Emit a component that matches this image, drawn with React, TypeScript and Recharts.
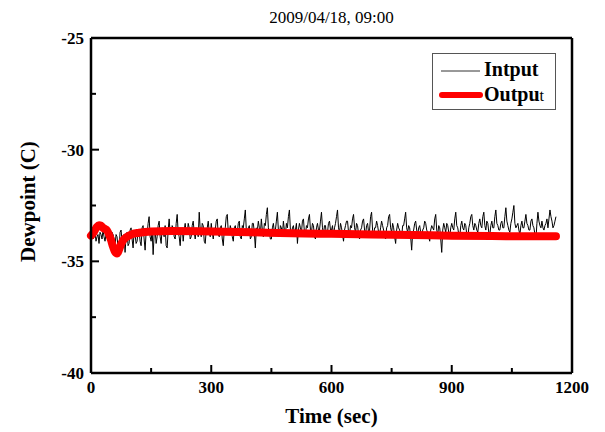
import { LineChart, Line, XAxis, YAxis, Legend } from "recharts";

// Chart text
const title = "2009/04/18, 09:00";
const xTitle = "Time (sec)";
const yTitle = "Dewpoint (C)";

// Axis ticks (minor ticks sit between the labelled ones)
const xTicks = [0, 150, 300, 450, 600, 750, 900, 1050, 1200];
const xMajorStep = 300;
const yTicks = [-40, -37.5, -35, -32.5, -30, -27.5, -25];
const yMajorStep = 5;

// Input sampled every 2.5 sec, 0..1160 (one row = one minute)
const inputStep = 2.5;
const inputValues = [
    -33.8, -33.6, -34.0, -33.9, -33.7, -34.1, -33.9, -33.8, -34.2, -33.7, -33.8, -34.0, -33.6, -33.9, -34.1, -33.8, -33.9, -33.6, -33.7, -34.2, -34.0, -33.7, -33.8, -34.0,
    -34.3, -33.8, -33.9, -34.4, -34.5, -33.7, -33.6, -34.1, -34.0, -33.8, -34.6, -33.9, -33.7, -34.3, -34.2, -33.6, -33.5, -34.0, -34.4, -33.7, -33.8, -34.2, -34.1, -33.6,
    -33.6, -34.1, -34.3, -33.5, -33.4, -34.0, -34.5, -33.7, -33.8, -33.3, -33.0, -33.9, -34.1, -33.6, -34.7, -33.8, -33.6, -34.2, -33.9, -33.4, -33.2, -33.9, -34.2, -33.5,
    -33.7, -33.9, -33.4, -34.3, -34.4, -33.6, -33.1, -33.8, -33.8, -33.4, -33.5, -33.9, -34.0, -33.3, -32.9, -33.7, -33.9, -34.3, -33.6, -33.5, -34.1, -33.6, -33.3, -33.8,
    -33.8, -33.3, -33.5, -34.0, -33.9, -33.4, -33.2, -33.7, -34.0, -33.5, -33.6, -33.9, -32.8, -33.6, -33.9, -33.3, -33.4, -34.1, -34.2, -33.6, -33.5, -33.2, -33.7, -33.9,
    -33.3, -33.7, -34.0, -33.5, -33.6, -33.2, -33.1, -33.8, -33.9, -33.5, -33.4, -34.0, -34.3, -33.6, -33.5, -33.0, -32.9, -33.7, -33.8, -33.4, -33.6, -33.9, -34.1, -33.5,
    -33.4, -33.8, -33.7, -33.3, -33.2, -33.9, -34.0, -33.4, -33.5, -33.1, -32.7, -33.6, -33.8, -33.5, -33.4, -34.0, -33.9, -33.3, -33.3, -33.7, -34.4, -33.5, -33.6, -33.2,
    -33.5, -33.8, -33.1, -33.6, -33.9, -33.3, -33.4, -32.9, -32.6, -33.5, -33.7, -34.0, -34.0, -33.5, -33.3, -33.7, -33.6, -33.2, -32.8, -33.6, -33.9, -33.4, -33.5, -33.8,
    -33.2, -33.6, -33.8, -33.3, -33.5, -33.0, -32.7, -33.6, -33.9, -33.5, -33.4, -33.8, -33.6, -33.3, -34.2, -33.6, -33.3, -33.5, -33.7, -33.2, -33.1, -33.7, -33.8, -33.4,
    -33.5, -33.1, -32.9, -33.6, -33.7, -33.3, -33.4, -33.9, -34.0, -33.5, -33.3, -33.6, -33.6, -33.2, -32.8, -33.5, -33.8, -33.4, -33.4, -33.9, -33.7, -33.3, -33.2, -33.6,
    -33.6, -33.4, -33.9, -33.5, -33.3, -33.0, -32.7, -33.5, -33.7, -33.3, -33.5, -33.8, -34.1, -33.6, -33.4, -33.2, -33.2, -33.7, -33.8, -33.4, -33.5, -33.1, -32.9, -33.5,
    -33.7, -33.3, -33.4, -33.8, -34.0, -33.6, -33.5, -33.2, -33.1, -33.6, -33.8, -33.4, -33.3, -33.7, -33.6, -33.0, -32.8, -33.6, -33.9, -33.5, -33.5, -33.2, -33.4, -33.7,
    -33.8, -33.5, -33.2, -33.4, -33.6, -33.9, -34.0, -33.5, -33.4, -33.0, -32.9, -33.5, -33.7, -33.3, -33.5, -33.9, -34.2, -33.6, -33.3, -33.5, -33.6, -33.8, -33.9, -33.4,
    -33.4, -33.1, -32.8, -33.5, -33.7, -33.4, -33.5, -33.9, -34.5, -33.7, -33.6, -33.3, -33.2, -33.6, -33.8, -33.5, -33.4, -33.7, -34.0, -33.6, -33.5, -33.2, -33.3, -33.6,
    -33.7, -33.9, -34.1, -33.6, -33.4, -33.5, -33.6, -33.1, -32.9, -33.6, -33.8, -33.4, -33.5, -34.0, -34.6, -33.6, -33.3, -33.5, -33.7, -33.3, -33.4, -33.7, -33.9, -33.5,
    -33.3, -33.5, -33.6, -33.1, -32.8, -33.4, -33.5, -33.8, -33.9, -33.4, -33.2, -33.5, -33.6, -33.3, -33.4, -33.8, -34.0, -33.5, -33.3, -33.0, -32.9, -33.4, -33.6, -33.3,
    -33.4, -33.6, -33.7, -33.3, -33.1, -33.4, -33.5, -33.0, -32.8, -33.4, -33.6, -33.2, -33.3, -33.7, -33.8, -33.4, -33.2, -33.5, -33.5, -33.0, -32.7, -33.3, -33.4, -33.6,
    -33.6, -33.3, -33.2, -33.5, -33.5, -33.0, -32.6, -33.2, -33.4, -33.6, -33.7, -33.3, -33.1, -32.8, -32.5, -33.3, -33.5, -33.4, -33.3, -33.6, -33.8, -33.4, -33.2, -33.5,
    -33.5, -33.2, -32.9, -33.3, -33.4, -33.6, -33.6, -33.2, -33.1, -33.4, -33.5, -33.8, -34.0, -33.3, -32.8, -33.2, -33.4, -33.5, -33.2, -33.5, -33.6, -33.4, -33.3, -33.1,
    -33.5, -33.1, -32.7, -33.0, -33.2, -33.5, -33.4, -33.2, -33.0,
];

// Output (smooth response)
const outputTimes = [0, 5, 10, 15, 20, 25, 30, 35, 40, 45, 50, 55, 60, 65, 70, 75, 80, 90, 100, 120, 150, 200, 300, 400, 500, 600, 700, 800, 900, 1000, 1100, 1160];
const outputValues = [-33.85, -33.75, -33.6, -33.45, -33.38, -33.4, -33.5, -33.55, -33.62, -33.8, -34.05, -34.35, -34.58, -34.65, -34.48, -34.24, -34.06, -33.9, -33.8, -33.72, -33.66, -33.64, -33.66, -33.7, -33.74, -33.77, -33.8, -33.82, -33.85, -33.87, -33.88, -33.88];

const inputData = inputValues.map((v, i) => ({ t: i * inputStep, v }));
const outputData = outputTimes.map((t, i) => ({ t, v: outputValues[i] }));

const serif = "'Liberation Serif', 'Times New Roman', serif";

function BottomTick({ x, y, payload }: any) {
    const major = payload.value % xMajorStep === 0;
    return (
        <g>
            <line x1={x} x2={x} y1={y} y2={y - (major ? 8 : 5)} stroke="#000" strokeWidth={2} />
            {major && (
                <text x={x} y={y + 20} textAnchor="middle" fontFamily={serif} fontWeight="bold" fontSize={17} fill="#000">
                    {payload.value}
                </text>
            )}
        </g>
    );
}

function TopTick({ x, y, payload }: any) {
    const major = payload.value % xMajorStep === 0;
    return <line x1={x} x2={x} y1={y} y2={y + (major ? 8 : 5)} stroke="#000" strokeWidth={2} />;
}

function LeftTick({ x, y, payload }: any) {
    const major = payload.value % yMajorStep === 0;
    return (
        <g>
            <line x1={x} x2={x + (major ? 8 : 5)} y1={y} y2={y} stroke="#000" strokeWidth={2} />
            {major && (
                <text x={x - 7} y={y + 6} textAnchor="end" fontFamily={serif} fontWeight="bold" fontSize={17} fill="#000">
                    {payload.value}
                </text>
            )}
        </g>
    );
}

function RightTick({ x, y, payload }: any) {
    const major = payload.value % yMajorStep === 0;
    return <line x1={x} x2={x - (major ? 8 : 5)} y1={y} y2={y} stroke="#000" strokeWidth={2} />;
}

function LegendBox() {
    return (
        <svg width={125} height={58} style={{ display: "block" }}>
            <rect x={0.5} y={0.5} width={123} height={56} fill="#fff" stroke="#555" strokeWidth={1} />
            <line x1={9} x2={48} y1={18} y2={18} stroke="#333" strokeWidth={1} />
            <text x={52} y={23} fontFamily={serif} fontWeight="bold" fontSize={20} fill="#000">Intput</text>
            <line x1={10} x2={48} y1={42} y2={42} stroke="#f00" strokeWidth={6} strokeLinecap="round" />
            <text x={52} y={48} fontFamily={serif} fontWeight="bold" fontSize={20} fill="#000">
                Outpu<tspan fontWeight="normal" fontSize={16}>t</tspan>
            </text>
        </svg>
    );
}

export default function App() {
    return (
        <div style={{ position: "absolute", left: 0, top: 0, background: "#fff" }}>
            <LineChart width={605} height={432} margin={{ top: 37, right: 32, bottom: 29, left: 31 }}>
                <XAxis
                    xAxisId="bottom"
                    dataKey="t"
                    type="number"
                    domain={[0, 1200]}
                    ticks={xTicks}
                    interval={0}
                    height={30}
                    tickSize={0}
                    tickMargin={0}
                    tickLine={false}
                    tick={<BottomTick />}
                    axisLine={{ stroke: "#000", strokeWidth: 2.5 }}
                    label={{ value: xTitle, position: "insideBottom", offset: -20, fontFamily: serif, fontWeight: "bold", fontSize: 21, fill: "#000" }}
                />
                <XAxis
                    xAxisId="top"
                    orientation="top"
                    dataKey="t"
                    type="number"
                    domain={[0, 1200]}
                    ticks={xTicks}
                    interval={0}
                    height={1}
                    tickSize={0}
                    tickMargin={0}
                    tickLine={false}
                    tick={<TopTick />}
                    axisLine={{ stroke: "#000", strokeWidth: 2.5 }}
                    label={{ value: title, position: "top", offset: 14, fontFamily: serif, fontSize: 17, fill: "#000" }}
                />
                <YAxis
                    yAxisId="left"
                    type="number"
                    domain={[-40, -25]}
                    ticks={yTicks}
                    interval={0}
                    width={60}
                    tickSize={0}
                    tickMargin={0}
                    tickLine={false}
                    tick={<LeftTick />}
                    axisLine={{ stroke: "#000", strokeWidth: 2.5 }}
                    label={{ value: yTitle, angle: -90, position: "insideLeft", offset: -3, dy: -4, fontFamily: serif, fontWeight: "bold", fontSize: 21, fill: "#000", style: { textAnchor: "middle" } }}
                />
                <YAxis
                    yAxisId="right"
                    orientation="right"
                    type="number"
                    domain={[-40, -25]}
                    ticks={yTicks}
                    interval={0}
                    width={1}
                    tickSize={0}
                    tickMargin={0}
                    tickLine={false}
                    tick={<RightTick />}
                    axisLine={{ stroke: "#000", strokeWidth: 2.5 }}
                />
                <Legend
                    layout="horizontal"
                    verticalAlign="middle"
                    align="center"
                    content={<LegendBox />}
                    wrapperStyle={{ left: 432, top: 53, width: 125, height: 58 }}
                />
                <Line
                    xAxisId="bottom"
                    yAxisId="left"
                    data={inputData}
                    dataKey="v"
                    name="Intput"
                    type="linear"
                    stroke="#000"
                    strokeWidth={1}
                    dot={false}
                    isAnimationActive={false}
                />
                <Line
                    xAxisId="bottom"
                    yAxisId="left"
                    data={outputData}
                    dataKey="v"
                    name="Output"
                    type="monotone"
                    stroke="#f00"
                    strokeWidth={8}
                    strokeLinecap="round"
                    dot={false}
                    isAnimationActive={false}
                />
            </LineChart>
        </div>
    );
}
